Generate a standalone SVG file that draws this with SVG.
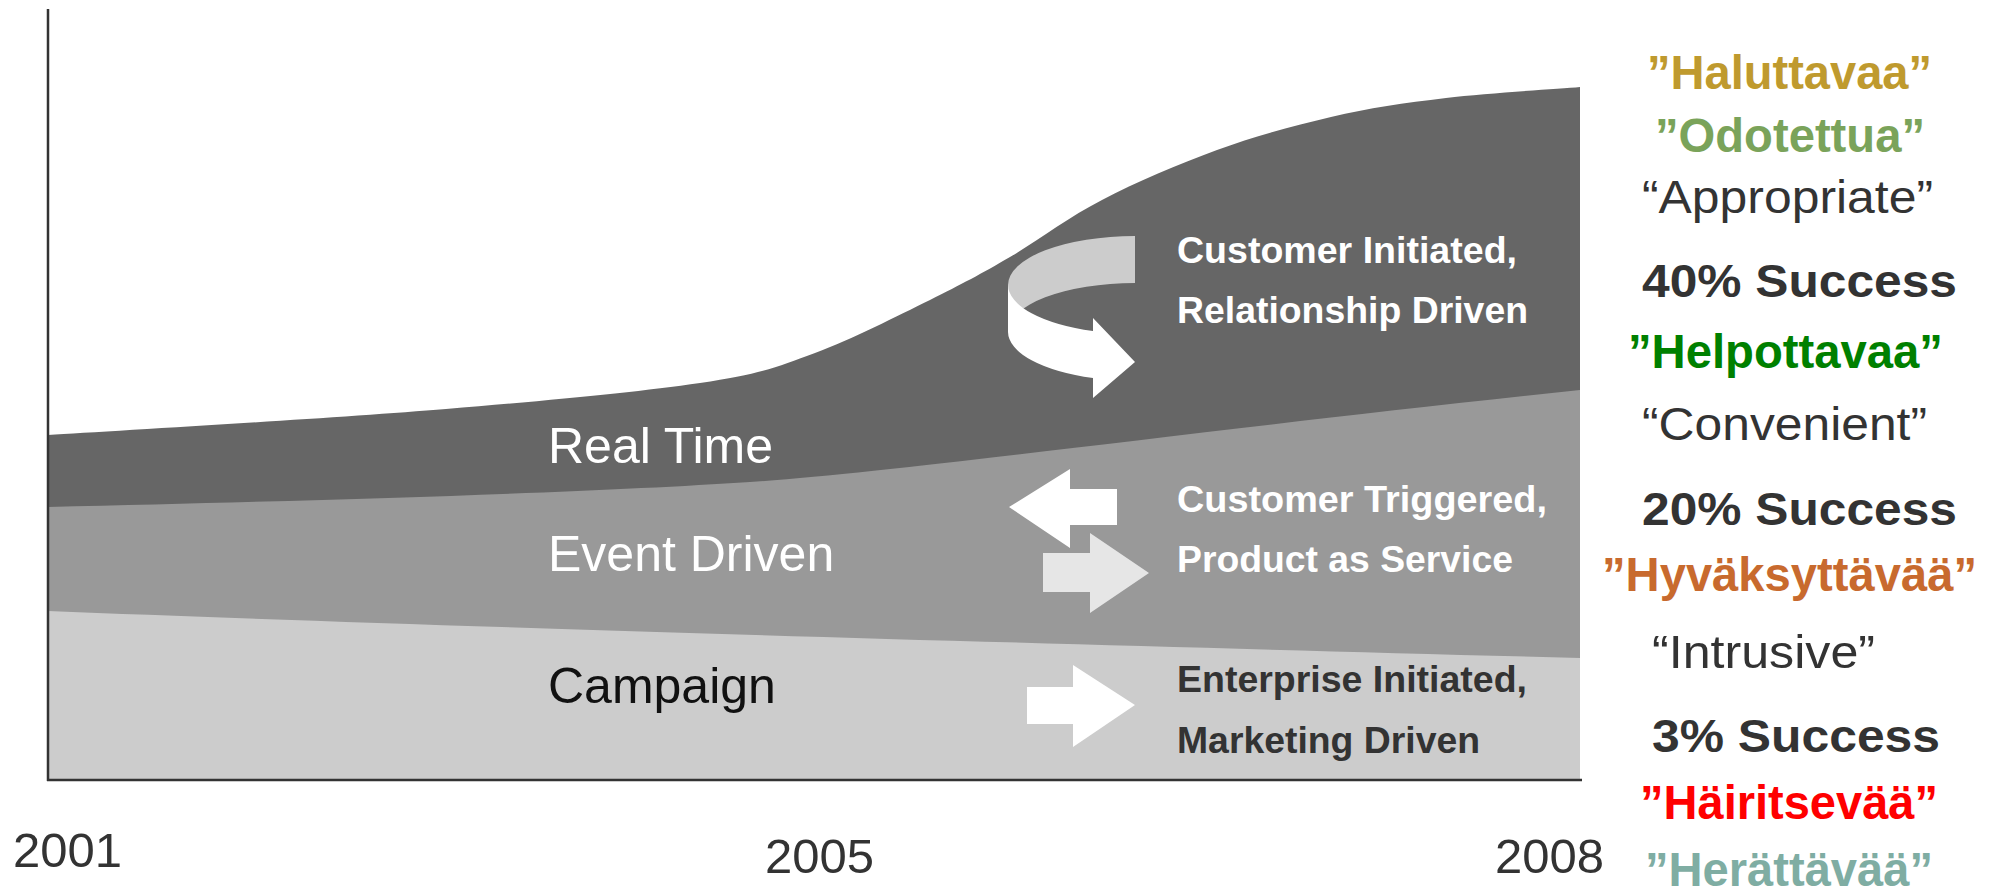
<svg xmlns="http://www.w3.org/2000/svg" width="1999" height="896" viewBox="0 0 1999 896">
<style>
.lbl{font-family:"Liberation Sans",Arial,sans-serif;font-size:50px}
.note{font-family:"Liberation Sans",Arial,sans-serif;font-size:37px;font-weight:bold}
.yr{font-family:"Liberation Sans",Arial,sans-serif;font-size:49px;fill:#333}
.fi{font-family:"Liberation Sans",Arial,sans-serif;font-size:48px;font-weight:bold}
.en{font-family:"Liberation Sans",Arial,sans-serif;font-size:46px;fill:#333}
.suc{font-family:"Liberation Sans",Arial,sans-serif;font-size:46px;font-weight:bold;fill:#333}
.axis{stroke:#333;stroke-width:2.5;fill:none}
</style>
<rect width="1999" height="896" fill="#fff"/>
<g id="bands">
<path id="band-realtime" d="M48,435 C114,431 337,418 446,409 C555,400 638,392 700,383 C761,374 777,367 815,353 C853,339 897,316 930,300 C962,284 981,274 1010,257 C1039,240 1067,218 1102,200 C1136,182 1179,164 1217,150 C1255,136 1293,126 1331,117 C1369,108 1404,103 1446,98 C1487,93 1558,89 1580,87 L1580,780 L48,780 Z" fill="#666"/>
<path id="band-event" d="M48,507 C350,500 600,492 750,482 S1200,430 1580,390 L1580,780 L48,780 Z" fill="#999"/>
<path id="band-campaign" d="M48,611 C400,625 900,640 1580,658 L1580,780 L48,780 Z" fill="#ccc"/>
</g>
<g id="axes">
<line class="axis" x1="48" y1="9" x2="48" y2="781"/>
<line class="axis" x1="47" y1="780" x2="1582" y2="780"/>
</g>
<g id="band-labels">
<text id="lbl-realtime" class="lbl" x="548" y="463" fill="#fff">Real Time</text>
<text id="lbl-event" class="lbl" x="548" y="571" fill="#fff">Event Driven</text>
<text id="lbl-campaign" class="lbl" x="548" y="703" fill="#111">Campaign</text>
</g>
<g id="arrows">
<g id="arrow-curved">
<path d="M1135,236 A127,49 0 0 0 1008,285 L1008,332 A127,49 0 0 1 1135,283 Z" fill="#ccc"/>
<path d="M1008,285 A127,49 0 0 0 1093,331 L1093,318 L1135,362 L1093,398 L1093,378 A127,49 0 0 1 1008,332 Z" fill="#fff"/>
</g>
<path id="arrow-left" d="M1009,507 L1070,469 L1070,489 L1117,489 L1117,525 L1070,525 L1070,548 Z" fill="#fff"/>
<path id="arrow-right-light" d="M1043,553 L1090,553 L1090,533 L1149,573 L1090,613 L1090,592 L1043,592 Z" fill="#e6e6e6"/>
<path id="arrow-campaign" d="M1027,687 L1073,687 L1073,665 L1135,705 L1073,747 L1073,724 L1027,724 Z" fill="#fff"/>
</g>
<g id="notes">
<g id="note-realtime" fill="#fff">
<text class="note" x="1177" y="263" textLength="340" lengthAdjust="spacingAndGlyphs">Customer Initiated,</text>
<text class="note" x="1177" y="323" textLength="351" lengthAdjust="spacingAndGlyphs">Relationship Driven</text>
</g>
<g id="note-event" fill="#fff">
<text class="note" x="1177" y="512" textLength="370" lengthAdjust="spacingAndGlyphs">Customer Triggered,</text>
<text class="note" x="1177" y="572" textLength="336" lengthAdjust="spacingAndGlyphs">Product as Service</text>
</g>
<g id="note-campaign" fill="#333">
<text class="note" x="1177" y="692" textLength="350" lengthAdjust="spacingAndGlyphs">Enterprise Initiated,</text>
<text class="note" x="1177" y="753" textLength="303" lengthAdjust="spacingAndGlyphs">Marketing Driven</text>
</g>
</g>
<g id="years">
<text class="yr" x="13" y="867">2001</text>
<text class="yr" x="765" y="873">2005</text>
<text class="yr" x="1495" y="873">2008</text>
</g>
<g id="ratings">
<text class="fi" x="1647" y="89" fill="#BF9A2E" textLength="285" lengthAdjust="spacingAndGlyphs">”Haluttavaa”</text>
<text class="fi" x="1655" y="152" fill="#7AA35A" textLength="270" lengthAdjust="spacingAndGlyphs">”Odotettua”</text>
<text class="en" x="1642" y="213" textLength="291" lengthAdjust="spacingAndGlyphs">“Appropriate”</text>
<text class="suc" x="1642" y="297" textLength="315" lengthAdjust="spacingAndGlyphs">40% Success</text>
<text class="fi" x="1628" y="368" fill="#008000" textLength="315" lengthAdjust="spacingAndGlyphs">”Helpottavaa”</text>
<text class="en" x="1642" y="440" textLength="285" lengthAdjust="spacingAndGlyphs">“Convenient”</text>
<text class="suc" x="1642" y="525" textLength="315" lengthAdjust="spacingAndGlyphs">20% Success</text>
<text class="fi" x="1602" y="591" fill="#C86A2E" textLength="375" lengthAdjust="spacingAndGlyphs">”Hyväksyttävää”</text>
<text class="en" x="1652" y="668" textLength="223" lengthAdjust="spacingAndGlyphs">“Intrusive”</text>
<text class="suc" x="1652" y="752" textLength="288" lengthAdjust="spacingAndGlyphs">3% Success</text>
<text class="fi" x="1640" y="819" fill="#FF0000" textLength="298" lengthAdjust="spacingAndGlyphs">”Häiritsevää”</text>
<text class="fi" x="1645" y="886" fill="#7FADA3" textLength="288" lengthAdjust="spacingAndGlyphs">”Herättävää”</text>
</g>
</svg>
